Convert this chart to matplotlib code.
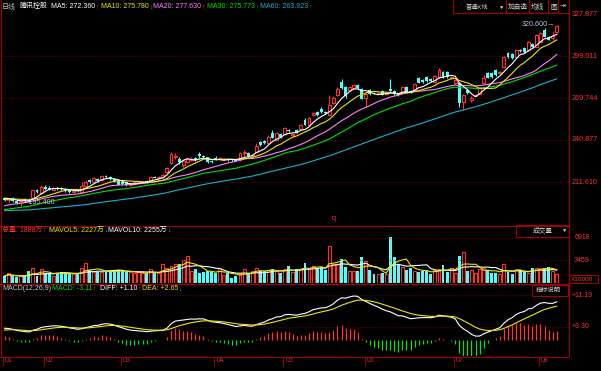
import numpy as np
import pandas as pd
import matplotlib
matplotlib.use('Agg')
import matplotlib.pyplot as plt
from matplotlib.patches import Rectangle

plt.rcParams['font.family'] = ['Liberation Sans', 'Noto Sans CJK SC', 'DejaVu Sans']

# ---------------- data ----------------
month_labels = ['01', '02', '03', '04', '05', '06', '07', '08']
month_start = [0, 10, 29, 52, 69, 89, 111, 132]

# closes of the sessions before the first visible candle (only feed MA / MACD)
hist_close = [
    193.5, 194.2, 195.0, 194.1, 192.8, 193.6, 192.0, 190.5, 191.2, 192.4,
    191.0, 189.8, 190.6, 191.8, 192.5, 191.3, 190.2, 189.5, 190.8, 191.6,
    190.4, 189.2, 190.0, 191.4, 190.6, 189.8, 190.9, 189.6, 188.7, 189.3,
    188.2, 187.5, 186.8, 187.4, 186.2, 185.6, 186.9, 187.8, 188.3, 187.6,
    188.5, 189.3, 190.2, 189.6, 190.8, 191.5, 192.2, 191.8, 193.0, 194.1,
    196.0, 197.3, 198.8, 199.5, 200.6, 201.2, 200.4, 201.0, 200.8]

opens = [
    200.5, 199.0, 200.2, 198.5, 197.2, 199.6, 199.5, 200.8, 206.2, 204.0,
    208.5, 207.8, 206.5, 207.8, 207.5, 207.0, 206.0, 205.0, 206.0, 205.0,
    209.0, 213.0, 212.0, 214.0, 213.0, 216.2, 215.5, 213.5, 212.2, 211.4,
    211.5, 209.5, 210.5, 211.5, 211.6, 212.4, 212.5, 215.5, 214.8, 215.0,
    218.8, 224.9, 229.0, 228.0, 223.5, 225.5, 227.0, 228.5, 231.0, 229.5,
    228.8, 226.0, 228.4, 227.6, 227.2, 227.9, 227.3, 227.5, 227.0, 231.8,
    232.0, 229.5, 232.5, 239.5, 240.3, 238.5, 246.0, 241.0, 245.0, 245.0,
    247.6, 244.5, 248.0, 248.5, 255.0, 251.0, 258.2, 260.0, 262.5, 260.0,
    258.5, 266.5, 272.0, 281.0, 277.5, 275.5, 277.0, 279.0, 276.0, 270.0,
    275.5, 273.5, 273.0, 274.5, 272.5, 276.0, 274.5, 273.0, 273.8, 277.5,
    275.0, 275.5, 283.8, 282.5, 284.5, 283.0, 281.0, 284.5, 288.0, 288.0,
    284.0, 280.3, 280.0, 267.0, 275.5, 268.6, 271.5, 273.0, 280.3, 287.3,
    287.0, 289.3, 287.2, 291.4, 301.0, 300.5, 298.3, 303.5, 304.5, 303.2,
    307.5, 305.3, 309.0, 317.0, 312.0, 311.5, 315.5]

highs = [
    201.5, 200.8, 201.0, 199.0, 199.2, 200.5, 200.6, 206.5, 207.0, 209.5,
    209.5, 209.0, 208.3, 208.4, 208.2, 207.6, 206.6, 206.4, 206.7, 211.5,
    212.8, 213.8, 215.5, 214.8, 216.8, 216.9, 216.0, 214.2, 212.8, 212.0,
    212.2, 211.2, 212.4, 212.6, 212.7, 213.0, 215.6, 216.0, 216.0, 217.0,
    222.0, 232.5, 232.0, 229.0, 227.0, 228.2, 228.8, 229.3, 232.5, 230.2,
    229.4, 226.8, 230.0, 229.2, 228.5, 228.4, 227.9, 228.0, 232.5, 234.0,
    232.6, 231.2, 238.5, 240.3, 241.0, 244.0, 247.5, 246.3, 245.8, 250.0,
    248.3, 246.0, 248.7, 252.0, 256.0, 257.0, 260.3, 260.8, 263.5, 260.7,
    272.0, 271.0, 277.5, 283.0, 278.5, 278.3, 279.8, 279.8, 276.8, 274.0,
    276.2, 274.2, 274.3, 275.2, 273.8, 283.0, 275.2, 273.6, 278.0, 278.2,
    275.8, 280.2, 284.6, 283.3, 285.3, 283.7, 286.2, 290.5, 289.0, 288.8,
    285.2, 283.0, 281.0, 273.0, 276.3, 271.0, 272.8, 277.8, 286.0, 288.0,
    287.8, 290.0, 288.4, 299.0, 301.8, 301.2, 303.8, 304.2, 305.2, 309.2,
    308.2, 314.2, 316.0, 318.5, 312.8, 316.5, 320.6]

lows = [
    198.5, 198.2, 198.0, 196.5, 195.4, 198.0, 198.2, 200.5, 204.0, 203.5,
    206.5, 206.5, 206.0, 206.4, 206.2, 204.9, 204.4, 204.5, 204.6, 204.5,
    208.5, 211.0, 211.5, 212.0, 212.5, 214.8, 213.0, 211.5, 209.5, 210.0,
    209.0, 209.0, 210.0, 211.0, 211.0, 211.3, 212.0, 214.2, 214.3, 214.6,
    218.0, 224.0, 227.5, 224.5, 222.0, 225.0, 226.4, 226.6, 228.5, 228.5,
    225.0, 225.0, 227.0, 227.0, 226.8, 226.4, 226.3, 226.0, 226.3, 229.5,
    229.0, 229.0, 232.0, 236.8, 238.2, 238.0, 242.0, 240.5, 242.5, 244.5,
    246.2, 243.0, 245.5, 248.0, 251.0, 250.5, 257.6, 257.4, 259.4, 258.8,
    257.5, 266.0, 271.4, 276.4, 270.0, 275.0, 276.5, 276.5, 269.0, 264.0,
    272.0, 272.5, 272.4, 271.7, 272.0, 274.0, 272.0, 271.4, 273.3, 273.5,
    273.4, 275.0, 280.0, 280.5, 281.0, 281.0, 280.5, 284.0, 284.0, 284.0,
    283.5, 279.8, 264.0, 261.6, 273.0, 267.5, 271.0, 272.5, 279.8, 283.5,
    284.0, 285.5, 286.8, 291.0, 298.0, 297.0, 297.8, 302.0, 301.3, 302.8,
    305.0, 305.0, 308.5, 312.0, 309.8, 310.0, 315.0]

closes = [
    199.0, 200.0, 198.8, 197.5, 198.5, 198.8, 198.9, 206.0, 205.0, 208.5,
    207.0, 207.0, 207.8, 206.9, 206.6, 205.5, 205.0, 205.8, 205.2, 209.0,
    212.0, 211.8, 214.5, 212.5, 216.0, 215.4, 213.5, 212.0, 210.0, 210.6,
    209.5, 210.5, 211.8, 212.0, 212.2, 211.7, 215.0, 214.7, 215.5, 216.3,
    221.5, 231.0, 229.5, 225.5, 226.0, 227.5, 228.0, 227.2, 229.5, 229.0,
    225.5, 225.5, 227.8, 228.2, 227.8, 226.8, 226.8, 226.5, 231.5, 232.2,
    229.5, 230.5, 237.0, 237.5, 238.8, 243.0, 242.5, 245.5, 243.0, 249.0,
    246.8, 245.0, 246.0, 251.3, 251.5, 256.0, 259.6, 258.0, 260.0, 259.5,
    265.0, 270.0, 276.5, 277.0, 271.0, 277.5, 279.0, 277.0, 269.5, 272.5,
    272.5, 273.0, 273.6, 272.2, 273.2, 275.0, 272.5, 272.0, 277.3, 274.0,
    274.0, 279.5, 280.5, 281.0, 281.5, 281.5, 285.5, 289.3, 284.5, 284.5,
    284.6, 282.4, 266.5, 272.0, 273.5, 270.0, 272.2, 277.0, 283.8, 284.0,
    284.5, 286.0, 287.8, 298.3, 298.5, 297.5, 303.0, 302.5, 301.8, 308.5,
    305.5, 313.6, 315.0, 312.5, 310.2, 313.0, 319.5]

# volume in 万股
volume = [
    1020, 1430, 1020, 820, 1020, 1020, 1780, 2190, 1020, 2040,
    1430, 1430, 1020, 1430, 1630, 1430, 1430, 1280, 1280, 2190,
    3100, 1940, 1680, 1680, 1580, 1780, 1780, 1780, 1940, 1780,
    1680, 1580, 1430, 1580, 1430, 1430, 2040, 1430, 1430, 2800,
    2190, 2550, 2850, 2800, 3460, 4070,
    1780, 2140, 1530, 1680, 1780, 1680, 1430, 2190, 1170, 1530,
    770, 1020, 1280, 2040, 1430, 1780, 2190, 1780, 1780, 1940,
    2090, 1780, 1430, 2040, 2550, 1680, 2040, 2040, 3100, 2040,
    2600, 2190, 2340, 1940, 5590, 2950, 2800, 3610, 2440, 1830,
    1780, 1830, 3920, 3310, 1940, 1280, 1280,
    1430, 1270, 7020, 3920, 2950, 2340, 1940, 2290, 1780, 1680,
    1780, 1780, 1330, 1940, 2040, 2700, 1680, 2190, 1530, 4120,
    4730, 1830, 1940, 1530, 2040, 2190, 1940, 1430, 1530, 1280,
    2950, 1680, 1280, 2040, 1940, 1680, 1430, 2190, 2290, 2190,
    2190, 2440, 1830, 1270]

price_grid = [299.011, 269.744, 240.877, 211.610]
price_ticks = [327.877, 299.011, 269.744, 240.877, 211.610]
vol_grid = [6918, 3459]
macd_grid = [11.19, 3.30]

# ---------------- colours / sizes ----------------
RED = '#ff3232'
CYAN = '#54fcfc'
GREEN = '#10e010'
DRED = '#a00000'
GRID = '#8c0000'
ARROW_DN = '#20b0ff'
MA_COLORS = {5: '#ffffff', 10: '#e8e800', 20: '#ff80ff', 30: '#00e000', 60: '#14b4cc'}
FS = 5.0      # header texts
FS_AX = 5.2   # right axis labels
FS_CN = 4.8   # chinese button texts

W, H = 601, 371
fig = plt.figure(figsize=(W / 100, H / 100), dpi=100, facecolor='black')


def ax_at(x0, y0, x1, y1):
    a = fig.add_axes([x0 / W, 1 - y1 / H, (x1 - x0) / W, (y1 - y0) / H])
    a.set_facecolor('black')
    a.set_axis_off()
    a.set_xlim(-0.616, 138.9)
    return a


o = np.array(opens)
h = np.array(highs)
l = np.array(lows)
c = np.array(closes)
v = np.array(volume, dtype=float)
idx = np.arange(len(c))
up = c >= o

allc = pd.Series(hist_close + closes)
nh = len(hist_close)

# ---------------- price panel ----------------
ax = ax_at(2, 0, 568.5, 226)
ax.set_ylim(181.25, 337.86)
for g in price_grid:
    ax.axhline(g, color=GRID, lw=0.6, ls=(0, (1, 2)))

blo = np.minimum(o, c)
bhi = np.maximum(o, c)
bh = np.maximum(bhi - blo, 0.35)
ax.vlines(idx[up], bhi[up], h[up], color=RED, lw=0.8)
ax.vlines(idx[up], l[up], blo[up], color=RED, lw=0.8)
ax.bar(idx[up], bh[up], 0.72, bottom=blo[up], facecolor='black', edgecolor=RED, lw=0.8, zorder=3)
ax.vlines(idx[~up], l[~up], h[~up], color=CYAN, lw=0.8)
ax.bar(idx[~up], bh[~up], 0.72, bottom=blo[~up], color=CYAN, lw=0, zorder=3)

for n in [60, 30, 20, 10, 5]:
    ma = allc.rolling(n).mean().values[nh:]
    ax.plot(idx, ma, color=MA_COLORS[n], lw=0.8, zorder=4)

imin = int(np.argmin(l))
imax = int(np.argmax(h))
ax.text(imin + 0.3, l[imin] + 2.0, '\u2190' + '%.3f' % l[imin], color='#c8c8c8',
        fontsize=FS_AX, va='center', ha='left', zorder=6)
ax.text(imax - 0.5, h[imax] + 0.6, '%.3f' % h[imax] + '\u2192', color='#b8c0e0',
        fontsize=FS_AX, va='center', ha='right', zorder=6)
ax.text(81, 186.3, 'q', color=RED, fontsize=FS_AX, ha='center', va='center')

for t in price_ticks:
    ax.text(1.005, t, '%.3f' % t, transform=ax.get_yaxis_transform(), color=RED,
            fontsize=FS_AX, va='center', ha='left', clip_on=False)

# ---------------- volume panel ----------------
axv = ax_at(2, 226, 568.5, 283)
axv.set_ylim(-46, 8715)
for g in vol_grid:
    axv.axhline(g, color=GRID, lw=0.6, ls=(0, (1, 2)))
axv.bar(idx[up], v[up], 0.72, facecolor='black', edgecolor=RED, lw=0.8)
axv.bar(idx[~up], v[~up], 0.72, color=CYAN, lw=0)
vs = pd.Series(v)
axv.plot(idx, vs.rolling(10, min_periods=1).mean(), color='#ffffff', lw=0.8)
axv.plot(idx, vs.rolling(5, min_periods=1).mean(), color='#e8e800', lw=0.8)
for g in vol_grid:
    axv.text(1.01, g, str(g), transform=axv.get_yaxis_transform(), color=RED,
             fontsize=FS, va='center', ha='left', clip_on=False)

# ---------------- MACD panel ----------------
axm = ax_at(2, 284, 568.5, 356)
axm.set_ylim(-4.07, 14.0)
for g in macd_grid:
    axm.axhline(g, color=GRID, lw=0.6, ls=(0, (1, 2)))
ema12 = allc.ewm(span=12, adjust=False).mean()
ema26 = allc.ewm(span=26, adjust=False).mean()
dif = ema12 - ema26
dea = dif.ewm(span=9, adjust=False).mean()
macd = 2 * (dif - dea)
dif = dif.values[nh:]
dea = dea.values[nh:]
macd = macd.values[nh:]
axm.vlines(idx, 0, macd, colors=np.where(macd >= 0, RED, GREEN), lw=0.9)
axm.plot(idx, dif, color='#ffffff', lw=0.8)
axm.plot(idx, dea, color='#e8e800', lw=0.8)
for g in macd_grid:
    axm.text(1.005, g, '+%.2f' % g, transform=axm.get_yaxis_transform(), color=RED,
             fontsize=FS, va='center', ha='left', clip_on=False)

# ---------------- date strip ----------------
axd = ax_at(2, 356, 568.5, 371)
axd.set_ylim(15, 0)
tk = np.array(month_start) - 0.3
axd.vlines(tk, 1, 10, color=DRED, lw=0.8)
for x, s in zip(tk, month_labels):
    axd.text(x + 0.45, 5, s, color='#d03030', fontsize=FS, va='center', ha='left')

# ---------------- frame, header texts (pixel overlay) ----------------
ov = fig.add_axes([0, 0, 1, 1], zorder=10)
ov.set_xlim(0, W)
ov.set_ylim(H, 0)
ov.set_axis_off()
ov.patch.set_alpha(0)

for y in [226, 283.5, 356.5]:
    ov.plot([0, 569], [y, y], color=DRED, lw=0.8)
ov.plot([569, 569], [0, 357], color=DRED, lw=0.8)
ov.plot([1, 1], [0, 357], color=DRED, lw=0.8)

rend = fig.canvas.get_renderer()


def seq(x, y, parts, fs=FS):
    for s, col in parts:
        t = ov.text(x, y, s, color=col, fontsize=fs, va='center', ha='left')
        x += t.get_window_extent(renderer=rend).width


ov.text(2, 7, '日线', color='#c0c0c0', fontsize=FS, va='center')
ov.text(20, 7, '腾讯控股', color='#ffffff', fontsize=FS, va='center')
seq(51, 7, [('MA5: 272.360', MA_COLORS[5]), ('\u2191', RED)])
seq(101, 7, [('MA10: 275.780', MA_COLORS[10]), ('\u2193', ARROW_DN)])
seq(153, 7, [('MA20: 277.630', MA_COLORS[20]), ('\u2191', RED)])
seq(207, 7, [('MA30: 275.773', MA_COLORS[30]), ('\u2191', RED)])
seq(260, 7, [('MA60: 263.923', MA_COLORS[60]), ('\u2191', RED)])

# buttons at the top right
for x in [452.7, 506, 529, 547.7, 557.7]:
    ov.plot([x, x], [0, 12.7], color=DRED, lw=0.8)
ov.plot([452.7, 569], [12.7, 12.7], color=DRED, lw=0.8)
ov.text(466, 7, '普通K线', color='#d8d8d8', fontsize=4.4, va='center')
ov.text(499, 7, '\u25bc', color='#d8d8d8', fontsize=3.8, va='center')
ov.text(507.5, 7, '加自选', color='#d8d8d8', fontsize=FS_CN, va='center')
ov.text(531, 7, '均线', color='#d8d8d8', fontsize=FS_CN, va='center')
ov.text(550, 7, '图', color='#d8d8d8', fontsize=FS_CN, va='center')
ov.text(560, 7, '\u21e5', color='#d8d8d8', fontsize=5.0, va='center')

# volume header
seq(2, 230.5, [('总量: 1888万', RED), ('\u2191', RED)])
seq(49, 230.5, [('MAVOL5: 2227万', '#e8e800'), ('\u2193', ARROW_DN)])
seq(108, 230.5, [('MAVOL10: 2255万', '#ffffff'), ('\u2193', ARROW_DN)])
ov.add_patch(Rectangle((516, 225), 53, 11.5, facecolor='black', edgecolor=DRED, lw=0.8))
ov.text(533, 230.7, '成交量', color='#d8d8d8', fontsize=FS_CN, va='center')
ov.text(562, 230.7, '\u25bc', color='#d8d8d8', fontsize=3.8, va='center')
ov.add_patch(Rectangle((569, 275), 29, 8, facecolor='black', edgecolor=DRED, lw=0.8))
ov.text(571, 279.2, 'X10000', color=RED, fontsize=4.6, va='center')

# MACD header
seq(2, 289, [('MACD(12,26,9)', '#c8c8c8')])
seq(52, 289, [('MACD: -3.11', '#00e000'), ('\u2191', RED)])
seq(100, 289, [('DIFF: +1.10', '#ffffff'), ('\u2191', RED)])
seq(142, 289, [('DEA: +2.65', '#e8e800'), ('\u2193', ARROW_DN)])
ov.add_patch(Rectangle((532, 285), 36, 10.5, facecolor='black', edgecolor=DRED, lw=0.8))
ov.text(536, 290.3, '指标说明', color='#d8d8d8', fontsize=4.5, va='center')

fig.savefig('out.png', dpi=100, facecolor='black')
